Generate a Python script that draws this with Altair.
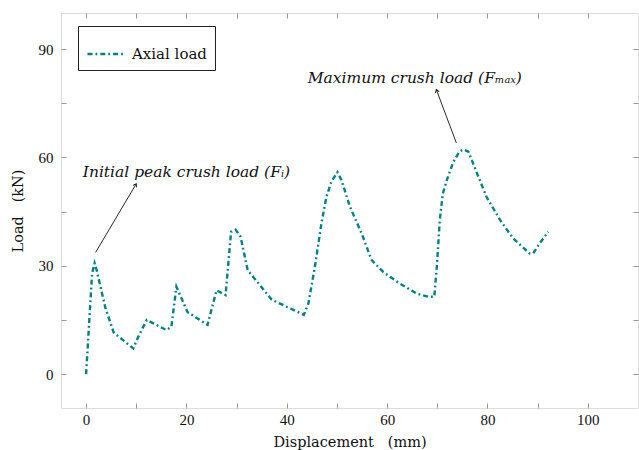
import altair as alt
import pandas as pd
import numpy as np

# ---- data ----
disp = [0, 1.2, 1.7, 2.1, 3.8, 5.5, 9.4, 10.4, 12.1, 16.0, 17.0, 18.0, 20.2, 24.2,
        26.0, 27.8, 28.9, 29.8, 30.8, 32.2, 37.0, 43.4, 44.3, 45.6, 46.9, 47.9, 48.9,
        50.1, 50.9, 52.6, 54.9, 56.9, 59.2, 62.5, 65.9, 68.2, 69.4, 69.9, 70.5, 71.1,
        71.9, 73.2, 74.4, 75.2, 76.2, 77.8, 79.8, 82.5, 85.1, 88.4, 89.1, 90.4, 92.1]
load = [0, 27.9, 30.7, 28.8, 18.6, 11.5, 7.1, 10.3, 15.0, 12.2, 13.1, 24.2, 17.2, 13.6,
        23.2, 21.9, 39.4, 40.0, 38.0, 28.8, 20.6, 16.4, 19.5, 29.7, 41.7, 49.1, 53.3,
        55.9, 53.7, 46.3, 39.0, 31.6, 28.3, 25.1, 22.3, 21.4, 21.4, 29.7, 42.7, 50.0,
        53.7, 58.8, 61.6, 62.2, 61.6, 56.0, 49.1, 42.7, 37.6, 33.4, 33.4, 36.2, 39.4]
series = "Axial load"

ann_text = ["Initial peak crush load (Fᵢ)", "Maximum crush load (Fₘₐₓ)"]
ann_x = [20.0, 65.5]
ann_y = [55.9, 82.0]
arrow_x1 = [1.9, 73.8]
arrow_y1 = [33.7, 64.0]
arrow_x2 = [10.0, 69.8]
arrow_y2 = [52.7, 78.8]

x_ticks = [0, 10, 20, 30, 40, 50, 60, 70, 80, 90, 100]
y_ticks = [0, 15, 30, 45, 60, 75, 90]
x_dom = [-5, 110]
y_dom = [-9.4, 100]

W, H = 577, 395

df = pd.DataFrame({"disp": disp, "load": load, "series": series})
ann = pd.DataFrame({"text": ann_text, "x": ann_x, "y": ann_y})
sx = W / (x_dom[1] - x_dom[0])
sy = H / (y_dom[1] - y_dom[0])
dxp = (np.array(arrow_x2) - np.array(arrow_x1)) * sx
dyp = -(np.array(arrow_y2) - np.array(arrow_y1)) * sy
ang = np.degrees(np.arctan2(dxp, -dyp)) % 360
arr = pd.DataFrame({"x1": arrow_x1, "y1": arrow_y1, "x2": arrow_x2, "y2": arrow_y2, "angle": ang})

xs = alt.Scale(domain=x_dom, nice=False, zero=False)
ys = alt.Scale(domain=y_dom, nice=False, zero=False)

SERIF = "DejaVu Serif"
LABF = "Liberation Serif"
DASH = [5, 3, 1.8, 3]
tick_common = dict(tickSize=5, offset=-5, domain=False, grid=False, tickColor="#999",
                   tickWidth=1)

x_axis = alt.Axis(values=x_ticks, title="Displacement\u00a0\u00a0\u00a0(mm)", orient="bottom",
                  labelExpr="datum.value % 20 == 0 ? datum.label : ''",
                  labelFont=LABF, labelFontSize=15, labelPadding=4, labelColor="#111",
                  titleFont=SERIF, titleFontSize=14.5, titleFontWeight="normal",
                  titleColor="#111", titlePadding=8, **tick_common)
y_axis = alt.Axis(values=y_ticks, title="Load\u00a0\u00a0\u00a0(kN)", orient="left",
                  labelExpr="datum.value % 30 == 0 ? datum.label : ''",
                  labelFont=LABF, labelFontSize=15, labelPadding=8, labelColor="#111",
                  titleFont=SERIF, titleFontSize=14.5, titleFontWeight="normal",
                  titleColor="#111", titlePadding=13, **tick_common)

line = alt.Chart(df).mark_line(strokeWidth=2.4, strokeDash=DASH).encode(
    x=alt.X("disp:Q", scale=xs, axis=x_axis),
    y=alt.Y("load:Q", scale=ys, axis=y_axis),
    color=alt.Color("series:N", scale=alt.Scale(range=["#008080"]),
                    legend=alt.Legend(title=None, orient="none", legendX=17, legendY=13,
                                      padding=8, strokeColor="#222", fillColor="white",
                                      cornerRadius=0, labelFont=SERIF, labelFontSize=15,
                                      labelColor="#111", symbolType="stroke",
                                      symbolSize=1369, symbolStrokeWidth=2.4,
                                      symbolDash=DASH, labelOffset=6)),
    order=alt.Order("disp:Q"),
)

frame_axes = alt.Chart(df).mark_line(opacity=0).encode(
    x=alt.X("disp:Q", scale=xs, axis=alt.Axis(values=x_ticks, orient="top", labels=False,
                                              title=None, **tick_common)),
    y=alt.Y("load:Q", scale=ys, axis=alt.Axis(values=y_ticks, orient="right", labels=False,
                                              title=None, **tick_common)),
)

rules = alt.Chart(arr).mark_rule(color="#111", strokeWidth=0.9).encode(
    x=alt.X("x1:Q", scale=xs, axis=None), y=alt.Y("y1:Q", scale=ys, axis=None),
    x2="x2:Q", y2="y2:Q",
)
heads = alt.Chart(arr).mark_point(shape="M-1,1.5L0,0L1,1.5", filled=False, size=16,
                                  color="#111", strokeWidth=0.9, opacity=1).encode(
    x=alt.X("x2:Q", scale=xs, axis=None), y=alt.Y("y2:Q", scale=ys, axis=None),
    angle=alt.Angle("angle:Q", scale=None),
)
texts = alt.Chart(ann).mark_text(font=SERIF, fontStyle="italic", fontSize=15.5,
                                 color="#111", align="center", baseline="middle").encode(
    x=alt.X("x:Q", scale=xs, axis=None), y=alt.Y("y:Q", scale=ys, axis=None),
    text="text:N",
)

chart = alt.layer(line, frame_axes, rules, heads, texts).resolve_axis(
    x="independent", y="independent"
).properties(
    width=W, height=H,
    autosize=alt.AutoSizeParams(type="none"),
    padding={"left": 61, "top": 13, "right": 1, "bottom": 42},
).configure_view(stroke="#333", strokeWidth=1).configure(background="white")

chart.save("out.html", embed_options={"renderer": "svg", "actions": False})
